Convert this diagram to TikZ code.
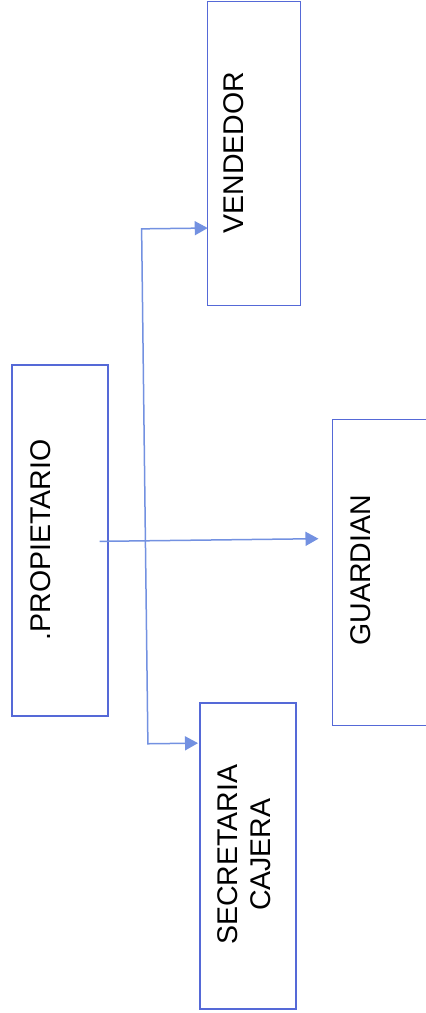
\documentclass[tikz,border=0pt]{standalone}
\usepackage{fontspec}
\setmainfont{Liberation Sans}
\usetikzlibrary{arrows.meta}
\definecolor{boxblue}{RGB}{85,105,215}
\definecolor{lineblue}{RGB}{115,145,225}
\tikzset{
  orgbox/.style={draw=boxblue, line width=1.4pt, inner sep=0pt, anchor=north west},
  orgtext/.style={rotate=90, font=\fontsize{28.5}{33}\selectfont, align=center, text=black},
  conn/.style={draw=lineblue, line width=1.5pt, -{Triangle[length=13pt,width=14pt]}},
  conn2/.style={draw=lineblue, line width=1.5pt, {Triangle[length=13pt,width=14pt]}-{Triangle[length=13pt,width=14pt]}}
}
\begin{document}
\begin{tikzpicture}[x=1pt,y=-1pt]
\useasboundingbox (0,0) rectangle (426,1013);
\fill[white] (0,0) rectangle (426,1013);
\begin{scope}[rotate around={0.7:(213,506)}]
  % boxes
  \node[orgbox, minimum width=96pt, minimum height=351pt] (prop) at (13,362) {};
  \node[orgbox, minimum width=94pt, minimum height=306pt] (guard) at (333,420) {};
  \node[orgbox, minimum width=93pt, minimum height=304pt] (vend) at (213,1) {};
  \node[orgbox, minimum width=96pt, minimum height=306pt] (sec) at (197,702) {};
  % texts
  \node[orgtext] (tprop) at (40,538) {.PROPIETARIO};
  \node[orgtext] (tguard) at (360,572) {GUARDIAN};
  \node[orgtext] (tvend) at (238,153) {VENDEDOR};
  \node[orgtext] (tsec) at (240,855) {SECRETARIA\\CAJERA};
  % connectors
  \coordinate (t1) at (145,228);
  \coordinate (t2) at (145,743);
  \coordinate (pstart) at ([xshift=-9pt]prop.east |- 0,540);
  \coordinate (gend) at ([xshift=-13pt]guard.west |- 0,540);
  \draw[conn] (pstart) -- (gend);
  \draw[conn2] (t1 -| vend.west) -- (t1) -- (t2) -- (t2 -| sec.west);
\end{scope}
\end{tikzpicture}
\end{document}
